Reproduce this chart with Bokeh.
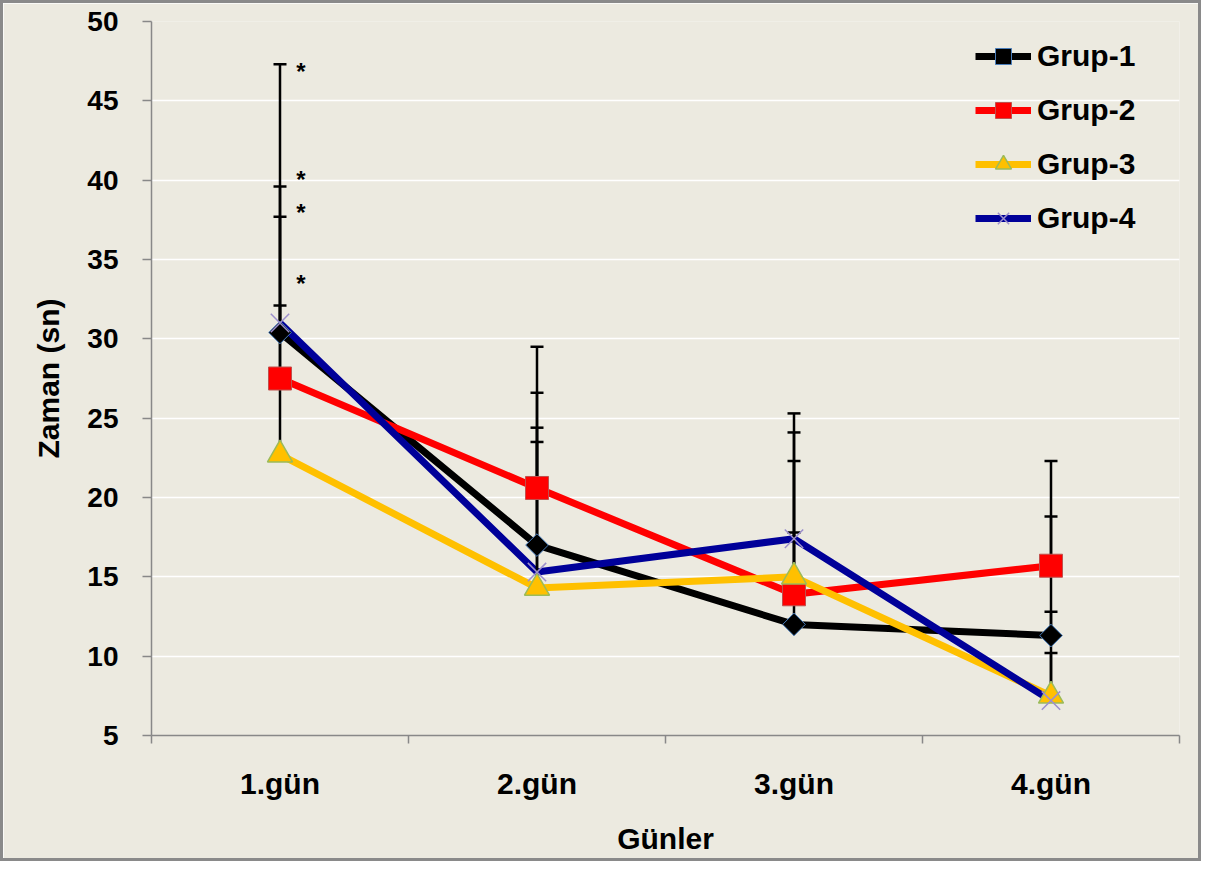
from bokeh.plotting import figure
from bokeh.models import FixedTicker, Legend, LegendItem, Range1d
from bokeh.core.properties import value
from bokeh.embed import file_html
from bokeh.resources import INLINE

# ---- data ----
days = ["1.gün", "2.gün", "3.gün", "4.gün"]
x_pos = [1, 2, 3, 4]
g1 = [30.4, 17.0, 12.0, 11.3]
g2 = [27.5, 20.6, 13.9, 15.7]
g3 = [22.7, 14.3, 15.0, 7.5]
g4 = [31.0, 15.3, 17.4, 7.2]
# upper ends of error bars (mean + SD)
g1_up = [37.7, 24.4, 17.8, 12.8]
g2_up = [32.1, 29.5, 24.1, 22.3]
g3_up = [39.6, 23.5, 22.3, 10.2]
g4_up = [47.3, 26.6, 25.3, 18.8]
# significance asterisks on day 1
sig_y = [47.3, 40.5, 38.4, 33.9]
y_ticks = [5, 10, 15, 20, 25, 30, 35, 40, 45, 50]

BG = "#ECEAE0"
FONT = "Liberation Sans"

p = figure(width=1201, height=861, output_backend="svg", toolbar_location=None,
           x_range=Range1d(0.5, 4.5), y_range=Range1d(5, 50),
           min_border_left=148, min_border_right=25, min_border_top=18, min_border_bottom=129)
p.background_fill_color = BG
p.border_fill_color = BG
p.outline_line_color = None
p.styles = {"border": "3px solid #8a8a8a"}

# axes
p.xaxis.ticker = FixedTicker(ticks=x_pos, minor_ticks=[0.5, 1.5, 2.5, 3.5, 4.5])
p.xaxis.major_label_overrides = {i: d for i, d in zip(x_pos, days)}
p.xaxis.major_tick_out = 0
p.xaxis.major_tick_in = 0
p.xaxis.minor_tick_out = 8
p.xaxis.minor_tick_in = 0
p.xaxis.major_label_standoff = 23
p.xaxis.axis_label = "Günler"
p.xaxis.axis_label_standoff = 19

p.yaxis.ticker = FixedTicker(ticks=y_ticks)
p.yaxis.major_tick_out = 9
p.yaxis.major_tick_in = 0
p.yaxis.minor_tick_out = 0
p.yaxis.minor_tick_in = 0
p.yaxis.major_label_standoff = 24
p.yaxis.axis_label = "Zaman (sn)"
p.yaxis.axis_label_standoff = 19

for ax in (p.xaxis, p.yaxis):
    ax.axis_line_color = "#888888"
    ax.axis_line_width = 1.5
    ax.major_tick_line_color = "#888888"
    ax.major_tick_line_width = 1.5
    ax.minor_tick_line_color = "#888888"
    ax.minor_tick_line_width = 1.5
    ax.major_label_text_font = FONT
    ax.major_label_text_font_style = "bold"
    ax.major_label_text_color = "black"
    ax.axis_label_text_font = FONT
    ax.axis_label_text_font_style = "bold"
    ax.axis_label_text_color = "black"
    ax.axis_label_text_font_size = "30px"
p.xaxis.major_label_text_font_size = "30px"
p.yaxis.major_label_text_font_size = "28px"

p.xgrid.grid_line_color = None
p.ygrid.grid_line_color = "white"
p.ygrid.grid_line_width = 1.5

series = [
    ("Grup-1", g1, g1_up, "black"),
    ("Grup-2", g2, g2_up, "#FF0000"),
    ("Grup-3", g3, g3_up, "#FFC000"),
    ("Grup-4", g4, g4_up, "#000099"),
]

lines = {}
for name, vals, up, col in series:
    lines[name] = p.line(x_pos, vals, line_color=col, line_width=7, line_join="round")

# error bars
for name, vals, up, col in series:
    p.segment(x0=x_pos, y0=vals, x1=x_pos, y1=up, line_color="black", line_width=2.5)
    p.scatter(x_pos, up, marker="dash", size=13, line_color="black", line_width=2.5)

marks = {}
marks["Grup-1"] = p.scatter(x_pos, g1, marker="square", angle=0.785398, size=16,
                            fill_color="black", line_color="#4A7EBB", line_width=1)
marks["Grup-2"] = p.scatter(x_pos, g2, marker="square", size=23,
                            fill_color="#FF0000", line_color="#C0504D", line_width=1)
marks["Grup-3"] = p.scatter(x_pos, g3, marker="triangle", size=25,
                            fill_color="#FFC000", line_color="#9BBB59", line_width=1.5)
marks["Grup-4"] = p.scatter(x_pos, g4, marker="x", size=26,
                            line_color="#9C8FCC", line_width=1.5)

# asterisks
p.text(x=[x_pos[0]] * len(sig_y), y=sig_y, text=["*"] * len(sig_y), x_offset=21, y_offset=7,
       text_font=value(FONT), text_font_style="bold", text_font_size="24px",
       text_align="center", text_baseline="middle", text_color="black")

legend = Legend(items=[LegendItem(label=n, renderers=[lines[n], marks[n]]) for n, *_ in series],
                location=(824, 497))
legend.background_fill_alpha = 0
legend.border_line_color = None
legend.padding = 0
legend.margin = 0
legend.glyph_width = 56
legend.glyph_height = 40
legend.label_height = 40
legend.spacing = 14
legend.label_standoff = 6
legend.label_text_font = FONT
legend.label_text_font_style = "bold"
legend.label_text_font_size = "30px"
legend.label_text_color = "black"
p.add_layout(legend)

open("out.html", "w").write(file_html(p, INLINE))
